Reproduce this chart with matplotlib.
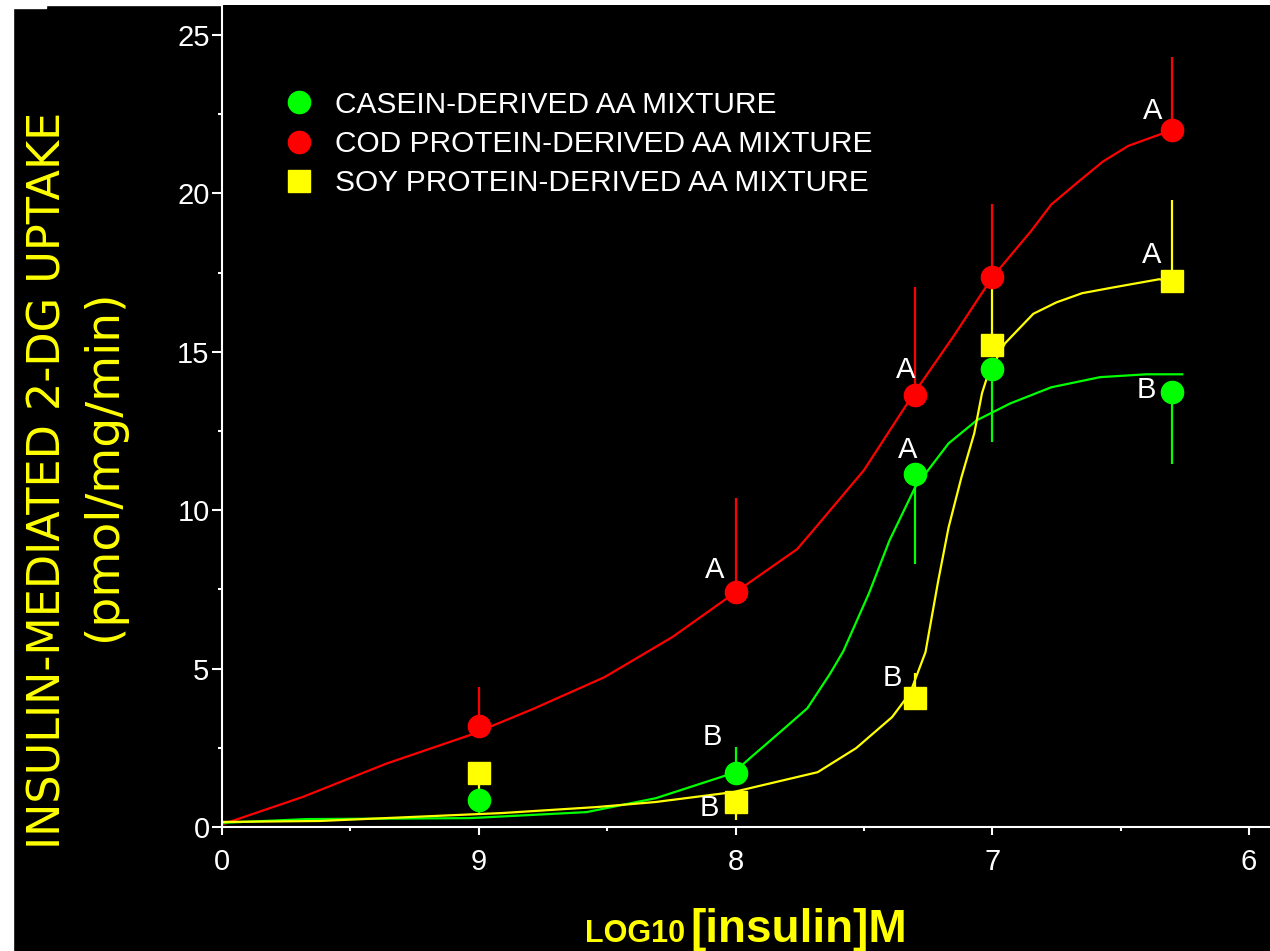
import numpy as np
import matplotlib.pyplot as plt
from matplotlib.patches import Rectangle

# log10 insulin concentration (M); -10 on the axis stands for "0"
log_ins = [-9, -8, -7.3, -7, -6.3]

casein = [0.85, 1.70, 11.14, 14.45, 13.72]
casein_lo = [0.41, 0.0, 2.85, 2.30, 2.25]
casein_hi = [0.0, 0.82, 0.0, 0.0, 0.0]
casein_sig = ['', 'B', 'A', '', 'B']

cod = [3.19, 7.41, 13.63, 17.35, 22.00]
cod_lo = [0.0, 0.0, 0.0, 0.0, 0.0]
cod_hi = [1.23, 2.97, 3.40, 2.30, 2.30]
cod_sig = ['', 'A', 'A', '', 'A']

soy = [1.70, 0.79, 4.07, 15.20, 17.22]
soy_lo = [0.60, 0.57, 0.0, 0.0, 0.0]
soy_hi = [0.0, 0.0, 0.79, 2.10, 2.58]
soy_sig = ['', 'B', 'B', '', 'A']

# fitted curves
cod_fit_x = [-10, -9.685, -9.36, -9.035, -8.79, -8.51, -8.245, -8.0, -7.76, -7.68,
             -7.50, -7.31, -7.15, -7.0, -6.85, -6.77, -6.66, -6.57, -6.47, -6.30]
cod_fit_y = [0.08, 0.95, 2.0, 2.9, 3.72, 4.73, 6.0, 7.41, 8.77, 9.53,
             11.26, 13.63, 15.5, 17.35, 18.8, 19.65, 20.4, 21.0, 21.5, 22.0]

casein_fit_x = [-10, -9.67, -9.035, -8.58, -8.31, -8.01, -7.93, -7.83, -7.72, -7.63, -7.58,
                -7.48, -7.40, -7.30, -7.17, -7.06, -6.93, -6.77, -6.58, -6.40, -6.26]
casein_fit_y = [0.13, 0.25, 0.28, 0.47, 0.91, 1.70, 2.27, 2.97, 3.75, 4.86, 5.55,
                7.38, 9.05, 10.73, 12.11, 12.84, 13.37, 13.88, 14.2, 14.29, 14.29]

soy_fit_x = [-10, -9.62, -8.91, -8.54, -8.31, -8.01, -7.68, -7.53, -7.39, -7.32, -7.26,
             -7.24, -7.21, -7.17, -7.12, -7.07, -7.04, -7.02, -6.98, -6.95, -6.84,
             -6.75, -6.65, -6.53, -6.35, -6.30]
soy_fit_y = [0.16, 0.19, 0.44, 0.63, 0.79, 1.10, 1.73, 2.49, 3.47, 4.23, 5.52,
             6.43, 7.79, 9.46, 11.04, 12.43, 13.69, 14.2, 14.83, 15.27, 16.2,
             16.56, 16.85, 17.03, 17.29, 17.22]

GREEN = '#00ff00'
RED = '#ff0000'
YELLOW = '#ffff00'

fig = plt.figure(figsize=(12.7, 9.51), dpi=100, facecolor='black')
W, H = 1270, 951
# white margins of the original slide
fig.patches.append(Rectangle((0, 0), 13 / W, 1, transform=fig.transFigure, color='white', zorder=-1))
fig.patches.append(Rectangle((0, 1 - 5 / H), 1, 5 / H, transform=fig.transFigure, color='white', zorder=-1))
fig.patches.append(Rectangle((0, 1 - 8 / H), 46 / W, 8 / H, transform=fig.transFigure, color='white', zorder=-1))

ax = fig.add_axes([222 / W, (H - 827) / H, 1 - 222 / W, (827 - 5) / H])
ax.set_facecolor('black')

ax.plot(cod_fit_x, cod_fit_y, color=RED, lw=1.6, zorder=2)
ax.plot(casein_fit_x, casein_fit_y, color=GREEN, lw=1.6, zorder=2)
ax.plot(soy_fit_x, soy_fit_y, color=YELLOW, lw=1.6, zorder=2)

series = [
    (cod, cod_lo, cod_hi, RED, 'o', 'COD PROTEIN-DERIVED AA MIXTURE', cod_sig, [(0, 0), (-21, 22), (-10, 25), (0, 0), (-19, 19)]),
    (casein, casein_lo, casein_hi, GREEN, 'o', 'CASEIN-DERIVED AA MIXTURE', casein_sig, [(0, 0), (-23, 36), (-8, 24), (0, 0), (-26, 2)]),
    (soy, soy_lo, soy_hi, YELLOW, 's', 'SOY PROTEIN-DERIVED AA MIXTURE', soy_sig, [(0, 0), (-26, -6), (-23, 20), (0, 0), (-20, 26)]),
]
handles = {}
for vals, lo, hi, col, mk, name, sig, offs in series:
    ax.errorbar(log_ins, vals, yerr=[lo, hi], fmt='none', ecolor=col, elinewidth=1.6, capsize=0, zorder=3)
    h, = ax.plot(log_ins, vals, linestyle='none', marker=mk, ms=16, color=col, mec=col, zorder=4, label=name)
    handles[name] = h
    for x, y, s, (dx, dy) in zip(log_ins, vals, sig, offs):
        if s:
            ax.annotate(s, (x, y), xytext=(dx, dy), textcoords='offset pixels', ha='center', va='center',
                        color='white', fontsize=21, family='Liberation Sans', zorder=5)

ax.set_xlim(-10, -10 + (W - 222) / 256.75)
ax.set_ylim(0, (827 - 5) / 31.68)
ax.set_xticks([-10, -9, -8, -7, -6], labels=['0', '9', '8', '7', '6'])
ax.set_xticks([-9.5, -8.5, -7.5, -6.5], minor=True)
ax.set_yticks([0, 5, 10, 15, 20, 25])
ax.set_yticks([2.5, 7.5, 12.5, 17.5, 22.5], minor=True)
for lab in ax.get_xticklabels() + ax.get_yticklabels():
    lab.set_family('Liberation Sans')
ax.tick_params(colors='white', labelsize=21, width=1.5)
ax.tick_params(axis='x', which='major', length=6, pad=9)
ax.tick_params(axis='y', which='major', length=7, pad=2)
ax.tick_params(which='minor', length=3, width=1.5, colors='white')
for side in ['top', 'right']:
    ax.spines[side].set_visible(False)
for side in ['left', 'bottom']:
    ax.spines[side].set_color('white')
    ax.spines[side].set_linewidth(1.5)

order = ['CASEIN-DERIVED AA MIXTURE', 'COD PROTEIN-DERIVED AA MIXTURE', 'SOY PROTEIN-DERIVED AA MIXTURE']
leg = ax.legend([handles[k] for k in order], order, loc='upper left',
                bbox_to_anchor=(269 / W, 1 - 76 / H), bbox_transform=fig.transFigure,
                frameon=False, borderpad=0, handlelength=1.0, handletextpad=0.7,
                labelspacing=0.37, labelcolor='white', markerscale=1.0,
                prop={'family': 'Liberation Sans', 'size': 21.5})

# axis titles
fig.text(48 / W, 1 - 480 / H, 'INSULIN-MEDIATED 2-DG UPTAKE', rotation=90, ha='center', va='center',
         color=YELLOW, fontsize=32, family='DejaVu Sans')
fig.text(103 / W, 1 - 465 / H, '(pmol/mg/min)', rotation=90, ha='center', va='center',
         color=YELLOW, fontsize=34, family='DejaVu Sans')
fig.text(585 / W, 1 - 942 / H, 'LOG10', ha='left', va='baseline', color=YELLOW,
         fontsize=22, fontweight='bold', family='Liberation Sans')
fig.text(690 / W, 1 - 942 / H, '[insulin]M', ha='left', va='baseline', color=YELLOW,
         fontsize=33, fontweight='bold', family='Liberation Sans')

fig.savefig('out.png', dpi=100, facecolor=fig.get_facecolor())
